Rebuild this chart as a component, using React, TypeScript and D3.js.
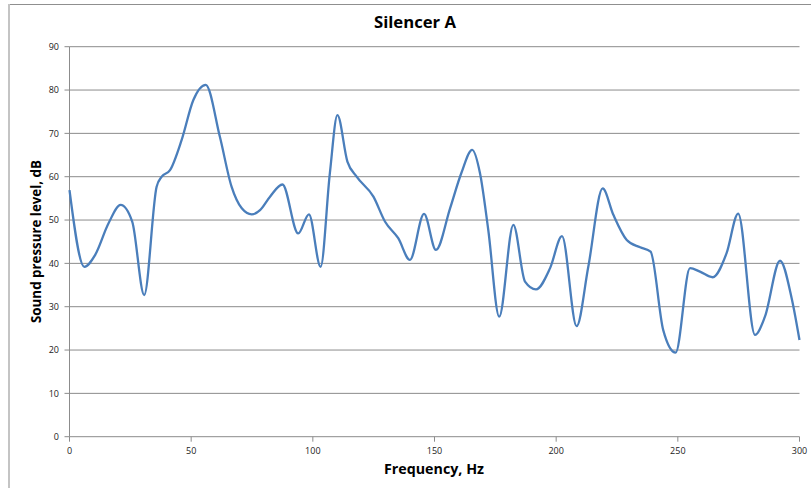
import React from "react";
import * as d3 from "d3";

// Measured sound pressure level across the frequency sweep
const frequencyHz: number[] = [
  0, 6.1, 10.5, 16, 21, 25.8, 30.7, 35.8, 37.9, 41.3, 46.1, 50.9, 56, 61.8, 66.6, 70.8,
  74.9, 78.3, 82.4, 87.5, 94, 98.4, 103.2, 107, 110.1, 114.2, 118, 124.9, 129.7, 135.1,
  139.9, 145.7, 150.6, 156.4, 161, 165.5, 168.7, 172.1, 176.6, 182.4, 187.2, 191.7, 197.5,
  202.4, 208.4, 213.2, 219.1, 223.5, 229, 234.5, 238.8, 244, 249.1, 255, 259.1, 264.3,
  270, 274.8, 281.7, 285.8, 292, 296.8, 300,
];
const levelDb: number[] = [
  56.9, 39.2, 41.9, 49.2, 53.5, 49.6, 32.7, 57.7, 60, 61.5, 68.5, 77.7, 81.2, 69.2, 57.7, 52.7,
  51.3, 52.3, 55.4, 58.2, 46.9, 51.3, 39.2, 60.8, 74.2, 63.5, 60, 55.4, 49.6, 45.8,
  40.8, 51.4, 43.1, 52.7, 60.8, 66.2, 60.8, 47.7, 27.7, 48.9, 35.8, 34, 38.9,
  46.3, 25.5, 39.2, 57.3, 51.2, 45.4, 43.7, 42.7, 24.6, 19.4, 38.9, 38.1, 36.8,
  42.3, 51.5, 23.5, 27.7, 40.6, 31.9, 22.3,
];
const xTicks: number[] = [0, 50, 100, 150, 200, 250, 300];
const yTicks: number[] = [0, 10, 20, 30, 40, 50, 60, 70, 80, 90];

const chartTitle = "Silencer A";
const xTitle = "Frequency, Hz";
const yTitle = "Sound pressure level, dB";

const W = 811;
const H = 488;
const plot = { left: 69.5, right: 799.5, top: 46.7, bottom: 436.7 };

export default function App() {
  const x = d3.scaleLinear().domain([0, 300]).range([plot.left, plot.right]);
  const y = d3.scaleLinear().domain([0, 90]).range([plot.bottom, plot.top]);

  const points: [number, number][] = frequencyHz.map((f, i) => [f, levelDb[i]]);
  const line = d3
    .line<[number, number]>()
    .x((d) => x(d[0]))
    .y((d) => y(d[1]))
    .curve(d3.curveMonotoneX);

  const tickFont = "'Open Sans', 'Liberation Sans', sans-serif";
  const gridColor = "#8c8c8c";

  return (
    <svg
      width={W}
      height={H}
      viewBox={`0 0 ${W} ${H}`}
      style={{ position: "absolute", left: 0, top: 0, background: "#fff" }}
    >
      <rect x={0} y={0} width={W} height={H} fill="#fff" />
      {/* chart frame */}
      <line x1={9} x2={W} y1={4.5} y2={4.5} stroke="#8f8f8f" strokeWidth={1} />
      <line x1={9} x2={9} y1={4} y2={H} stroke="#c4c4c4" strokeWidth={2} />

      {/* horizontal gridlines */}
      {yTicks
        .filter((t) => t > 0)
        .map((t) => (
          <line
            key={`g${t}`}
            x1={plot.left}
            x2={plot.right}
            y1={y(t)}
            y2={y(t)}
            stroke={gridColor}
            strokeWidth={1}
          />
        ))}

      {/* axes */}
      <line x1={plot.left} x2={plot.left} y1={plot.top} y2={plot.bottom} stroke={gridColor} strokeWidth={1} />
      <line x1={plot.left} x2={plot.right} y1={plot.bottom} y2={plot.bottom} stroke={gridColor} strokeWidth={1} />

      {yTicks.map((t) => (
        <g key={`yt${t}`}>
          <line x1={plot.left - 5} x2={plot.left} y1={y(t)} y2={y(t)} stroke={gridColor} />
          <text
            x={59}
            y={y(t)}
            dy="0.35em"
            textAnchor="end"
            fontFamily={tickFont}
            fontSize={9}
            fill="#222"
          >
            {t}
          </text>
        </g>
      ))}

      {xTicks.map((t) => (
        <g key={`xt${t}`}>
          <line x1={x(t)} x2={x(t)} y1={plot.bottom} y2={plot.bottom + 5} stroke={gridColor} />
          <text
            x={x(t)}
            y={453.5}
            textAnchor="middle"
            fontFamily={tickFont}
            fontSize={9}
            fill="#222"
          >
            {t}
          </text>
        </g>
      ))}

      {/* data series */}
      <path d={line(points) ?? ""} fill="none" stroke="#4a7ebb" strokeWidth={2.3} strokeLinejoin="round" />

      {/* titles */}
      <text
        x={415}
        y={28.3}
        textAnchor="middle"
        fontFamily={tickFont}
        fontWeight="bold"
        fontSize={16}
        textLength={82}
        lengthAdjust="spacingAndGlyphs"
        fill="#000"
      >
        {chartTitle}
      </text>
      <text
        x={434}
        y={474}
        textAnchor="middle"
        fontFamily={tickFont}
        fontWeight="bold"
        fontSize={14.5}
        textLength={100}
        lengthAdjust="spacingAndGlyphs"
        fill="#000"
      >
        {xTitle}
      </text>
      <text
        transform={`translate(41,241.5) rotate(-90)`}
        textAnchor="middle"
        fontFamily={tickFont}
        fontWeight="bold"
        fontSize={14}
        textLength={163}
        lengthAdjust="spacingAndGlyphs"
        fill="#000"
      >
        {yTitle}
      </text>
    </svg>
  );
}
